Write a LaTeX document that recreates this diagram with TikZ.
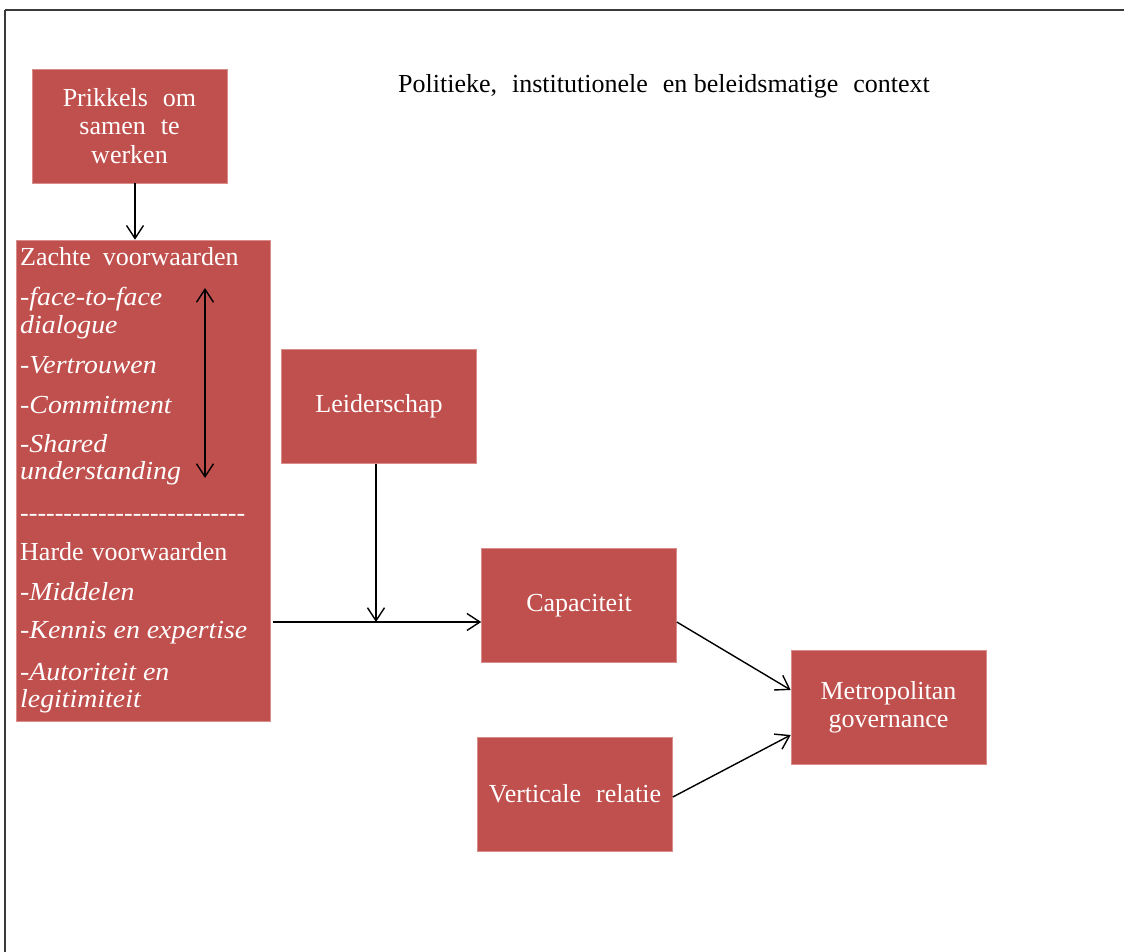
\documentclass[tikz,border=0pt]{standalone}
\usepackage{fontspec}
\setmainfont{Liberation Serif}
\newfontfamily\itemfam{Liberation Serif}[FakeStretch=1.07]
\usetikzlibrary{arrows.meta,calc}
\definecolor{boxred}{HTML}{C0504D}
\definecolor{boxedge}{HTML}{D98C8A}
\definecolor{framegray}{HTML}{3A3A3A}
\newcommand\wsp{\hspace{15pt}}
\newcommand\dashrow{-{}-{}-{}-{}-{}-{}-{}-{}-{}-{}-{}-{}-{}-{}-{}-{}-{}-{}-{}-{}-{}-{}-{}-{}-{}-}
\begin{document}
\begin{tikzpicture}[x=1pt,y=-1pt,
  redbox/.style={rectangle, fill=boxred, draw=boxedge, line width=0.6pt,
    minimum width=195pt, minimum height=114pt, inner sep=0pt, text=white,
    font=\fontsize{26}{28.5}\selectfont, align=center},
  headtext/.style={anchor=base west, inner sep=0pt, text=white,
    font=\fontsize{26}{28.5}\selectfont},
  itemtext/.style={headtext, font=\itemfam\fontsize{26}{28.5}\selectfont\itshape},
  link/.style={line width=1.4pt, -{Straight Barb[length=13pt,width=17pt]}},
  frame/.style={draw=framegray, line width=2.6pt},
]
\useasboundingbox (0,0) rectangle (1124,952);

% open frame: top and left edges
\draw[frame] (5,10) -- (1124,10);
\draw[frame] (5,10) -- (5,952);

% heading
\node[anchor=base, inner sep=0pt, font=\fontsize{26}{28.5}\selectfont] (title) at (664,93)
  {Politieke,\wsp institutionele\wsp en beleidsmatige\wsp context};

% boxes
\node[redbox] (prik) at (129.5,126) {Prikkels\wsp om\\samen\wsp te\\werken};
\node[redbox, minimum width=254pt, minimum height=481pt] (zacht) at (143,480.5) {};
\node[redbox] (leid) at (379,406.5) {Leiderschap};
\node[redbox] (cap) at (579,605.5) {Capaciteit};
\node[redbox] (metro) at (888.5,707.5) {Metropolitan\\governance};
\node[redbox] (vert) at (575,794) {Verticale\wsp relatie};

% contents of the conditions box
\node[headtext] (z1) at (20,265) {Zachte\hspace{12pt}voorwaarden};
\node[itemtext] (z2) at (20,305) {-face-to-face};
\node[itemtext] (z3) at (20,333) {dialogue};
\node[itemtext] (z4) at (20,373) {-Vertrouwen};
\node[itemtext] (z5) at (20,413) {-Commitment};
\node[itemtext] (z6) at (20,452) {-Shared};
\node[itemtext] (z7) at (20,479) {understanding};
\node[headtext] (z8) at (20,521) {\dashrow};
\node[headtext] (z9) at (20,560) {Harde\hspace{8pt}voorwaarden};
\node[itemtext] (z10) at (20,600) {-Middelen};
\node[itemtext] (z11) at (20,638) {-Kennis en expertise};
\node[itemtext] (z12) at (20,680) {-Autoriteit en};
\node[itemtext] (z13) at (20,707) {legitimiteit};

% interplay of the soft conditions
\coordinate (dtop) at (205,288);
\coordinate (dbot) at (205,478);
\draw[line width=1.4pt, {Straight Barb[length=13pt,width=17pt]}-{Straight Barb[length=13pt,width=17pt]}] (dtop) -- (dbot);

% junction where leadership joins the conditions
\coordinate (j) at (376,622);

% connectors
\draw[link] ([xshift=5.5pt]prik.south) -- ([xshift=5.5pt]prik.south |- zacht.north);
\draw[link] ([xshift=3pt]zacht.east |- j) -- (cap.west |- j);
\draw[link] (leid.south -| j) -- (j);
\draw[link] (cap.east |- j) -- ([yshift=17.5pt]metro.west);
\draw[link] ([yshift=-3pt]vert.east) -- ([yshift=-27.5pt]metro.west);
\end{tikzpicture}
\end{document}
